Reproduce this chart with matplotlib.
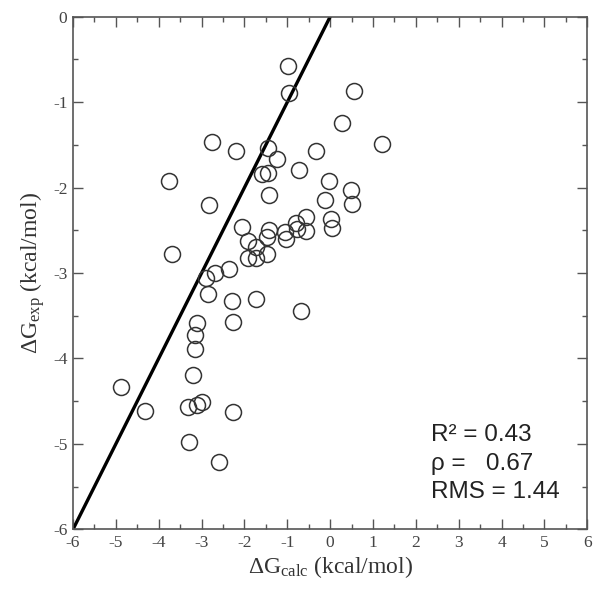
import matplotlib
matplotlib.use('Agg')
import matplotlib.pyplot as plt
from matplotlib.ticker import MultipleLocator

plt.rcParams['axes.unicode_minus'] = False
plt.rcParams['mathtext.fontset'] = 'custom'
plt.rcParams['mathtext.rm'] = 'Liberation Serif'
plt.rcParams['mathtext.it'] = 'Liberation Serif'

# calculated vs experimental binding free energies (kcal/mol)
dg_calc = [-0.99, -0.96, 0.56, 0.27, 1.20, -0.33, -2.75, -2.20, -1.45, -1.23,
           -0.72, -1.60, -1.45, -1.43, -3.76, -2.83, -0.02, -0.12, 0.48, 0.51,
           0.01, 0.05, -0.57, -0.57, -0.79, -0.77, -1.06, -1.02, -1.43, -1.47,
           -2.06, -1.92, -1.72, -1.92, -1.74, -1.47, -3.68, -2.36, -2.69, -2.89,
           -2.85, -2.29, -1.74, -0.69, -2.27, -3.11, -3.16, -3.16, -3.20, -4.87,
           -4.31, -3.32, -3.11, -2.98, -2.27, -3.30, -2.59]
dg_exp = [-0.58, -0.89, -0.87, -1.24, -1.49, -1.57, -1.47, -1.57, -1.54, -1.67,
          -1.80, -1.84, -1.83, -2.09, -1.92, -2.20, -1.92, -2.15, -2.03, -2.19,
          -2.37, -2.47, -2.35, -2.51, -2.41, -2.48, -2.52, -2.60, -2.50, -2.58,
          -2.46, -2.63, -2.70, -2.83, -2.82, -2.78, -2.78, -2.95, -3.00, -3.06,
          -3.24, -3.33, -3.31, -3.45, -3.57, -3.58, -3.72, -3.89, -4.19, -4.34,
          -4.61, -4.57, -4.55, -4.51, -4.63, -4.98, -5.21]
diag = [-6, 0]
stats = ['R\u00b2 = 0.43', '\u03c1 =   0.67', 'RMS = 1.44']

fig = plt.figure(figsize=(6.02, 5.96), dpi=100)
ax = fig.add_axes([0.1213, 0.1119, 0.8543, 0.8601])

ax.plot(diag, diag, color='black', lw=2.4, zorder=2)
ax.plot(dg_calc, dg_exp, linestyle='none', marker='o', markersize=11.5,
        markerfacecolor='none', markeredgecolor='#333333', markeredgewidth=1.1, zorder=3)

ax.set_xlim(-6, 6)
ax.set_ylim(-6, 0)
ax.xaxis.set_major_locator(MultipleLocator(1))
ax.xaxis.set_minor_locator(MultipleLocator(0.5))
ax.yaxis.set_major_locator(MultipleLocator(1))
ax.yaxis.set_minor_locator(MultipleLocator(0.5))
ax.tick_params(which='both', direction='in', top=True, right=True,
               color='#555555', width=1)
ax.tick_params(which='major', length=7, labelsize=12.5, pad=4)
ax.tick_params(which='minor', length=3.5)
for lab in ax.get_xticklabels() + ax.get_yticklabels():
    lab.set_family('Liberation Serif')
    lab.set_color('#444444')
for s in ax.spines.values():
    s.set_color('#555555')
    s.set_linewidth(1.2)

ax.set_xlabel('\u0394G$_{\\mathrm{calc}}$ (kcal/mol)', family='Liberation Serif',
              fontsize=17, color='#333333', labelpad=2)
ax.set_ylabel('\u0394G$_{\\mathrm{exp}}$ (kcal/mol)', family='Liberation Serif',
              fontsize=17, color='#333333', labelpad=4)

for i, t in enumerate(stats):
    ax.text(0.697, 0.184 - i * 0.056, t, transform=ax.transAxes, family='Liberation Sans',
            fontsize=17.5, color='#222222', va='center', ha='left')

fig.savefig('out.png', dpi=100)
